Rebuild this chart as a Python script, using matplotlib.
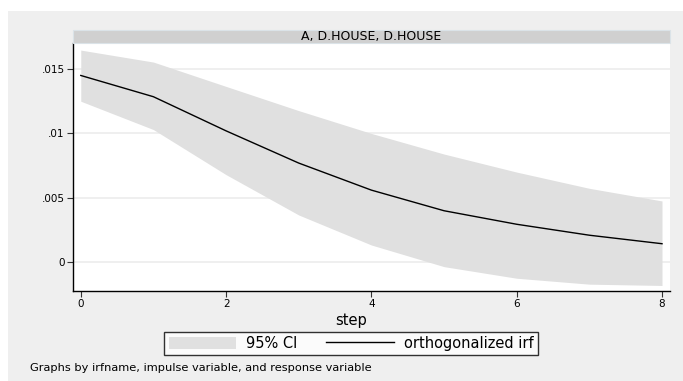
import numpy as np
import matplotlib.pyplot as plt
from matplotlib.patches import Rectangle

plt.rcParams['font.family'] = ['DejaVu Sans']

# impulse response of D.HOUSE to D.HOUSE, irfname A
step = [0, 1, 2, 3, 4, 5, 6, 7, 8]
oirf = [0.0145, 0.01285, 0.0102, 0.0077, 0.0056, 0.0040, 0.00295, 0.0021, 0.00144]
ci_upper = [0.01647, 0.01554, 0.01365, 0.01177, 0.0100, 0.0084, 0.0070, 0.00574, 0.00476]
ci_lower = [0.0125, 0.0103, 0.0068, 0.00367, 0.00134, -0.00034, -0.00124, -0.0017, -0.0018]

W, H = 683, 381
fig = plt.figure(figsize=(W / 100, H / 100), dpi=100)
fig.patches.append(Rectangle((8 / W, 0), 1, 1 - 11 / H, transform=fig.transFigure,
                             facecolor='#efefef', edgecolor='none', zorder=-10))

ax = fig.add_axes([73 / W, 1 - 291 / H, (670 - 73) / W, (291 - 43) / H])
ax.set_facecolor('white')

ax.fill_between(step, ci_lower, ci_upper, color='#e0e0e0', linewidth=0, zorder=2,
                label='95% CI')
ax.plot(step, oirf, color='black', linewidth=1.0, zorder=3, label='orthogonalized irf')

ax.set_xlim(-0.107, 8.11)
ax.set_ylim(-0.00223, 0.01702)
ax.set_xticks([0, 2, 4, 6, 8])
ax.set_yticks([0, 0.005, 0.01, 0.015])
ax.set_yticklabels(['0', '.005', '.01', '.015'])
ax.yaxis.grid(True, color='#ececec', linewidth=1.2, zorder=1)
ax.set_axisbelow(True)
ax.tick_params(axis='both', labelsize=7.5, length=4, width=0.8, color='#333333', pad=2)
for side in ['top', 'right']:
    ax.spines[side].set_visible(False)
for side in ['left', 'bottom']:
    ax.spines[side].set_linewidth(1.0)
ax.set_xlabel('step', fontsize=10.5)
ax.xaxis.set_label_coords((351 - 73) / (670 - 73), -(320 - 291) / (291 - 43))
ax.xaxis.label.set_va('center')

# strip with the panel title
fig.patches.append(Rectangle((73 / W, 1 - 43 / H), (670 - 73) / W, 13 / H,
                             transform=fig.transFigure, facecolor='#d0d0d0',
                             edgecolor='#dbe3e8', linewidth=0.8))
fig.text((73 + 670) / 2 / W, 1 - 36.5 / H, 'A, D.HOUSE, D.HOUSE', fontsize=9,
         ha='center', va='center')

leg = fig.legend(loc='center', bbox_to_anchor=(351 / W, 1 - 343.5 / H), ncol=2,
                 fontsize=10.5, frameon=True, fancybox=False, handlelength=4.6,
                 handleheight=0.9, columnspacing=2.0, handletextpad=0.7,
                 borderpad=0.3)
leg.get_frame().set_edgecolor('black')
leg.get_frame().set_linewidth(1.0)
leg.get_frame().set_facecolor('white')

fig.text(30 / W, 1 - 368 / H, 'Graphs by irfname, impulse variable, and response variable',
         fontsize=8.2, ha='left', va='center')

fig.savefig('out.png', dpi=100, facecolor='white')
